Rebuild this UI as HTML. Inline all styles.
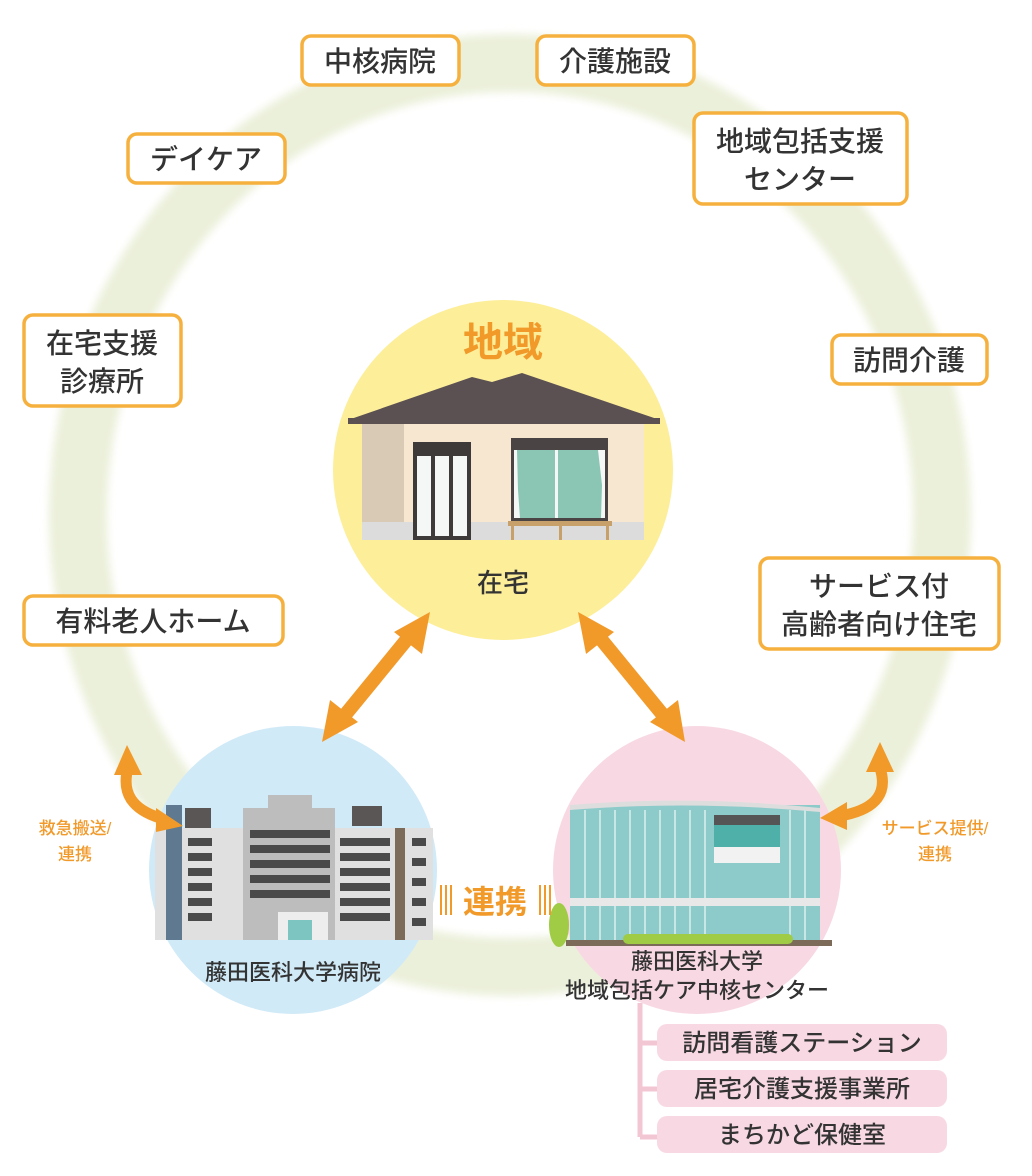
<!DOCTYPE html>
<html><head><meta charset="utf-8"><style>
html,body{margin:0;padding:0;background:#fff}
svg{display:block}
text{font-family:"Liberation Sans","Noto Sans CJK JP",sans-serif;font-weight:500}
</style></head><body>
<svg width="1032" height="1176" viewBox="0 0 1032 1176" xmlns="http://www.w3.org/2000/svg">
<defs><filter id="bl"><feGaussianBlur stdDeviation="4"/></filter></defs>
<ellipse cx="510" cy="515" rx="432" ry="452" fill="none" stroke="#ebf0da" stroke-width="58" filter="url(#bl)"/>

<circle cx="503" cy="470" r="170" fill="#fdee9a"/>
<circle cx="293" cy="870" r="144" fill="#d1eaf7"/>
<circle cx="697" cy="870" r="144" fill="#f8d9e3"/>

<text x="503" y="356" font-size="40" style="font-weight:bold" fill="#f19a2a" text-anchor="middle">地域</text>
<rect x="362" y="420" width="282" height="120" fill="#f8e7d0"/>
<rect x="362" y="420" width="42" height="120" fill="#d9cab6"/>
<rect x="362" y="522" width="282" height="18" fill="#dcdcdc"/>
<polygon points="348,420 472,377 492,382 522,373 660,420" fill="#5b5052"/>
<rect x="348" y="418" width="312" height="6" fill="#5b5052"/>
<rect x="413" y="442" width="58" height="98" fill="#3e3a3a"/>
<rect x="417" y="456" width="14" height="80" fill="#f5f6f6"/><rect x="435" y="456" width="14" height="80" fill="#f5f6f6"/><rect x="453" y="456" width="14" height="80" fill="#f5f6f6"/>
<rect x="511" y="438" width="97" height="84" fill="#4a4444"/>
<rect x="514" y="450" width="91" height="68" fill="#f5f6f6"/>
<polygon points="517,450 555,450 555,518 520,518 518,490" fill="#8bc6b5"/>
<polygon points="558,450 598,450 602,485 601,518 558,518" fill="#8bc6b5"/>
<rect x="508" y="521" width="104" height="5" fill="#c8a16a"/>
<rect x="511" y="526" width="3" height="14" fill="#c8a16a"/><rect x="559" y="526" width="3" height="14" fill="#c8a16a"/><rect x="606" y="526" width="3" height="14" fill="#c8a16a"/>
<text x="503" y="592" font-size="26" fill="#333" text-anchor="middle">在宅</text>

<rect x="155" y="828" width="278" height="112" fill="#e0e0e0"/>
<rect x="166" y="805" width="16" height="135" fill="#5f7a90"/>
<rect x="185" y="808" width="26" height="20" fill="#5b5656"/>
<rect x="243" y="808" width="92" height="132" fill="#bdbdbd"/>
<rect x="268" y="795" width="44" height="20" fill="#bdbdbd"/>
<rect x="352" y="806" width="30" height="20" fill="#5b5656"/>
<rect x="395" y="828" width="10" height="112" fill="#7b6b58"/>
<g fill="#4a4a4a">
<rect x="188" y="838" width="24" height="8"/><rect x="188" y="853" width="24" height="8"/><rect x="188" y="868" width="24" height="8"/><rect x="188" y="883" width="24" height="8"/><rect x="188" y="898" width="24" height="8"/><rect x="188" y="913" width="24" height="8"/>
<rect x="250" y="830" width="80" height="8"/><rect x="250" y="845" width="80" height="8"/><rect x="250" y="860" width="80" height="8"/><rect x="250" y="875" width="80" height="8"/><rect x="250" y="890" width="80" height="8"/>
<rect x="340" y="838" width="50" height="8"/><rect x="340" y="853" width="50" height="8"/><rect x="340" y="868" width="50" height="8"/><rect x="340" y="883" width="50" height="8"/><rect x="340" y="898" width="50" height="8"/><rect x="340" y="913" width="50" height="8"/>
<rect x="412" y="838" width="14" height="8"/><rect x="412" y="858" width="14" height="8"/><rect x="412" y="878" width="14" height="8"/><rect x="412" y="898" width="14" height="8"/><rect x="412" y="918" width="14" height="8"/>
</g>
<rect x="278" y="912" width="50" height="28" fill="#eee"/>
<rect x="288" y="920" width="24" height="20" fill="#7cc5c0"/>
<text x="293" y="980" font-size="22" fill="#333" text-anchor="middle">藤田医科大学病院</text>

<rect x="570" y="805" width="250" height="140" fill="#8ccbc9"/>
<path d="M570 805 Q690 795 820 808 L820 812 Q690 800 570 810Z" fill="#ddd"/>
<g stroke="#c8e6e4" stroke-width="2">
<line x1="585" y1="810" x2="585" y2="942"/><line x1="600" y1="810" x2="600" y2="942"/><line x1="615" y1="810" x2="615" y2="942"/><line x1="630" y1="810" x2="630" y2="942"/><line x1="645" y1="810" x2="645" y2="942"/><line x1="660" y1="810" x2="660" y2="942"/><line x1="675" y1="810" x2="675" y2="942"/><line x1="690" y1="810" x2="690" y2="942"/><line x1="705" y1="810" x2="705" y2="942"/><line x1="790" y1="810" x2="790" y2="942"/><line x1="805" y1="810" x2="805" y2="942"/>
</g>
<rect x="570" y="898" width="250" height="8" fill="#e8e8e8"/>
<rect x="714" y="815" width="66" height="10" fill="#555"/>
<rect x="714" y="825" width="66" height="22" fill="#4fb0aa"/>
<rect x="714" y="847" width="66" height="16" fill="#f2f2f2"/>
<rect x="566" y="940" width="266" height="6" fill="#7b6b58"/>
<rect x="623" y="934" width="170" height="10" rx="5" fill="#9fcb45"/>
<ellipse cx="559" cy="925" rx="10" ry="22" fill="#9fcb45"/>
<text x="697" y="969" font-size="22" fill="#333" text-anchor="middle">藤田医科大学</text>
<text x="697" y="998" font-size="22" fill="#333" text-anchor="middle">地域包括ケア中核センター</text>

<text x="495" y="913" font-size="32" style="font-weight:bold" fill="#f19a2a" text-anchor="middle">連携</text>
<g stroke="#f19a2a" stroke-width="2"><line x1="441" y1="885" x2="441" y2="915"/><line x1="446" y1="885" x2="446" y2="915"/><line x1="451" y1="885" x2="451" y2="915"/><line x1="540" y1="885" x2="540" y2="915"/><line x1="545" y1="885" x2="545" y2="915"/><line x1="550" y1="885" x2="550" y2="915"/></g>

<g fill="#f19a2a" stroke="none">
<line x1="345" y1="715" x2="408" y2="638" stroke="#f19a2a" stroke-width="14"/>
<polygon points="322,742 330,700 358,722"/>
<polygon points="430,612 422,654 394,632"/>
<line x1="600" y1="638" x2="663" y2="715" stroke="#f19a2a" stroke-width="14"/>
<polygon points="578,612 614,632 586,654"/>
<polygon points="685,742 650,722 678,700"/>
</g>
<path d="M128 768 Q118 805 160 818" fill="none" stroke="#f19a2a" stroke-width="11"/>
<polygon points="127,745 114,775 142,775" fill="#f19a2a"/>
<polygon points="183,826 156,808 156,832" fill="#f19a2a"/>
<path d="M880 768 Q892 805 845 815" fill="none" stroke="#f19a2a" stroke-width="11"/>
<polygon points="880,742 866,772 894,772" fill="#f19a2a"/>
<polygon points="820,818 847,802 847,830" fill="#f19a2a"/>
<text x="75" y="834" font-size="17" fill="#f19a2a" text-anchor="middle">救急搬送/</text>
<text x="75" y="860" font-size="17" fill="#f19a2a" text-anchor="middle">連携</text>
<text x="935" y="834" font-size="17" fill="#f19a2a" text-anchor="middle">サービス提供/</text>
<text x="935" y="860" font-size="17" fill="#f19a2a" text-anchor="middle">連携</text>

<g fill="#fff" stroke="#f5b03e" stroke-width="3.5">
<rect x="302" y="36" width="157" height="49" rx="9"/>
<rect x="537" y="36" width="157" height="49" rx="9"/>
<rect x="128" y="134" width="157" height="49" rx="9"/>
<rect x="694" y="113" width="213" height="91" rx="9"/>
<rect x="24" y="315" width="157" height="91" rx="9"/>
<rect x="832" y="335" width="155" height="49" rx="9"/>
<rect x="24" y="596" width="259" height="49" rx="9"/>
<rect x="760" y="558" width="239" height="91" rx="9"/>
</g>
<g font-size="28" fill="#333" text-anchor="middle">
<text x="380" y="71">中核病院</text>
<text x="615" y="71">介護施設</text>
<text x="206" y="169">デイケア</text>
<text x="800" y="151">地域包括支援</text>
<text x="800" y="189">センター</text>
<text x="102" y="353">在宅支援</text>
<text x="102" y="391">診療所</text>
<text x="909" y="370">訪問介護</text>
<text x="153" y="631">有料老人ホーム</text>
<text x="879" y="596">サービス付</text>
<text x="879" y="634">高齢者向け住宅</text>
</g>

<path d="M640 1003 V1137 M640 1043 H660 M640 1089 H660 M640 1137 H660" stroke="#f3c6d4" stroke-width="5" fill="none"/>
<g fill="#f8d9e3">
<rect x="657" y="1024" width="290" height="37" rx="10"/>
<rect x="657" y="1070" width="290" height="37" rx="10"/>
<rect x="657" y="1116" width="290" height="37" rx="10"/>
</g>
<g font-size="24" fill="#333" text-anchor="middle">
<text x="802" y="1051">訪問看護ステーション</text>
<text x="802" y="1097">居宅介護支援事業所</text>
<text x="802" y="1143">まちかど保健室</text>
</g>
</svg>
</body></html>
